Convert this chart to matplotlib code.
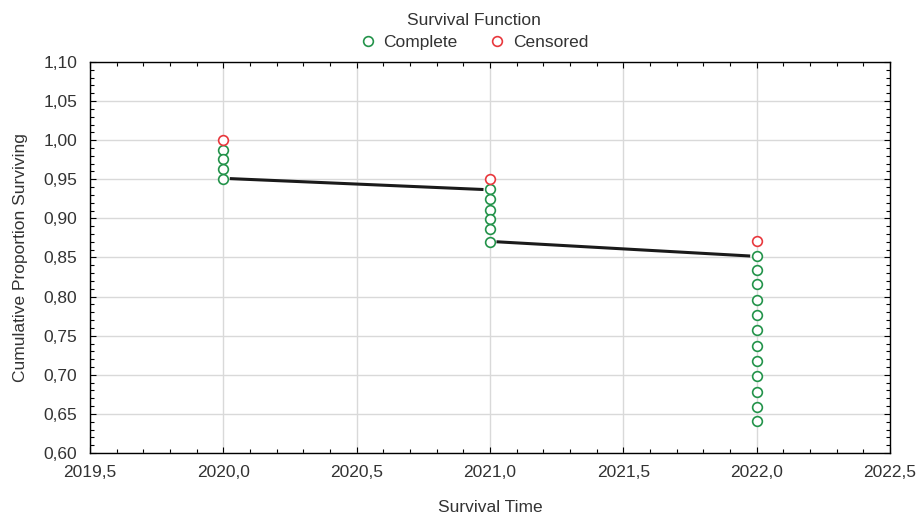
import numpy as np
import matplotlib.pyplot as plt
from matplotlib.ticker import MultipleLocator, FuncFormatter

plt.rcParams['font.family'] = ['Liberation Sans', 'DejaVu Sans']

# survival times
times = [2020.0, 2021.0, 2022.0]

# complete observations (cumulative proportion surviving) per time
complete_2020 = [0.9875, 0.9756, 0.9632, 0.9508]
complete_2021 = [0.937, 0.9244, 0.911, 0.899, 0.886, 0.870]
complete_2022 = [0.852, 0.834, 0.816, 0.795, 0.777, 0.757, 0.737, 0.718,
                 0.6985, 0.678, 0.659, 0.641]

# censored observations per time
censored = [1.0, 0.9504, 0.8715]

# survival function segments (start, end) between times
seg_start = [0.9508, 0.870]
seg_end = [0.937, 0.852]

green = '#23934a'
red = '#e8383d'
txt = '#333333'

fig = plt.figure(figsize=(9.18, 5.14), dpi=100)
ax = fig.add_axes([0.098, 0.1187, 0.8715, 0.7607])

for i in range(len(seg_start)):
    ax.plot([times[i] + 0.03, times[i + 1] - 0.03], [seg_start[i], seg_end[i]],
            color='#1a1a1a', lw=2.2, zorder=2)

mk = dict(marker='o', ms=7, mfc='white', mew=1.2, ls='none', zorder=3)
for t, vals in zip(times, [complete_2020, complete_2021, complete_2022]):
    ax.plot([t] * len(vals), vals, mec=green, **mk)
ax.plot(times, censored, mec=red, **mk)

# legend handles
h1, = ax.plot([], [], mec=green, label='Complete', **mk)
h2, = ax.plot([], [], mec=red, label='Censored', **mk)
leg = fig.legend(handles=[h1, h2], loc='upper center', bbox_to_anchor=(0.516, 0.995),
                 ncol=2, frameon=False, title='Survival Function', fontsize=12.5,
                 title_fontsize=12.5, handlelength=1.0, handletextpad=0.4,
                 columnspacing=1.8, borderaxespad=0.2, labelspacing=0.2)
leg._legend_box.sep = 5
for t in leg.get_texts():
    t.set_color(txt)
leg.get_title().set_color(txt)

ax.set_xlim(2019.5, 2022.5)
ax.set_ylim(0.60, 1.10)
ax.xaxis.set_major_locator(MultipleLocator(0.5))
ax.xaxis.set_minor_locator(MultipleLocator(0.1))
ax.yaxis.set_major_locator(MultipleLocator(0.05))
ax.yaxis.set_minor_locator(MultipleLocator(0.01))
ax.xaxis.set_major_formatter(FuncFormatter(lambda v, p: f'{v:.1f}'.replace('.', ',')))
ax.yaxis.set_major_formatter(FuncFormatter(lambda v, p: f'{v:.2f}'.replace('.', ',')))

ax.tick_params(which='both', direction='in', top=True, right=True, labelsize=12.5,
               color='black', width=0.8, labelcolor=txt)
ax.tick_params(which='major', length=4, pad=9)
ax.tick_params(which='minor', length=3)
ax.grid(True, which='major', color='#d9d9d9', lw=1)
ax.set_axisbelow(True)
for s in ax.spines.values():
    s.set_color('black')
    s.set_linewidth(1)

ax.set_xlabel('Survival Time', fontsize=12.5, labelpad=14, color=txt)
ax.set_ylabel('Cumulative Proportion Surviving', fontsize=12.5, labelpad=11, color=txt)

fig.savefig('out.png', dpi=100)
